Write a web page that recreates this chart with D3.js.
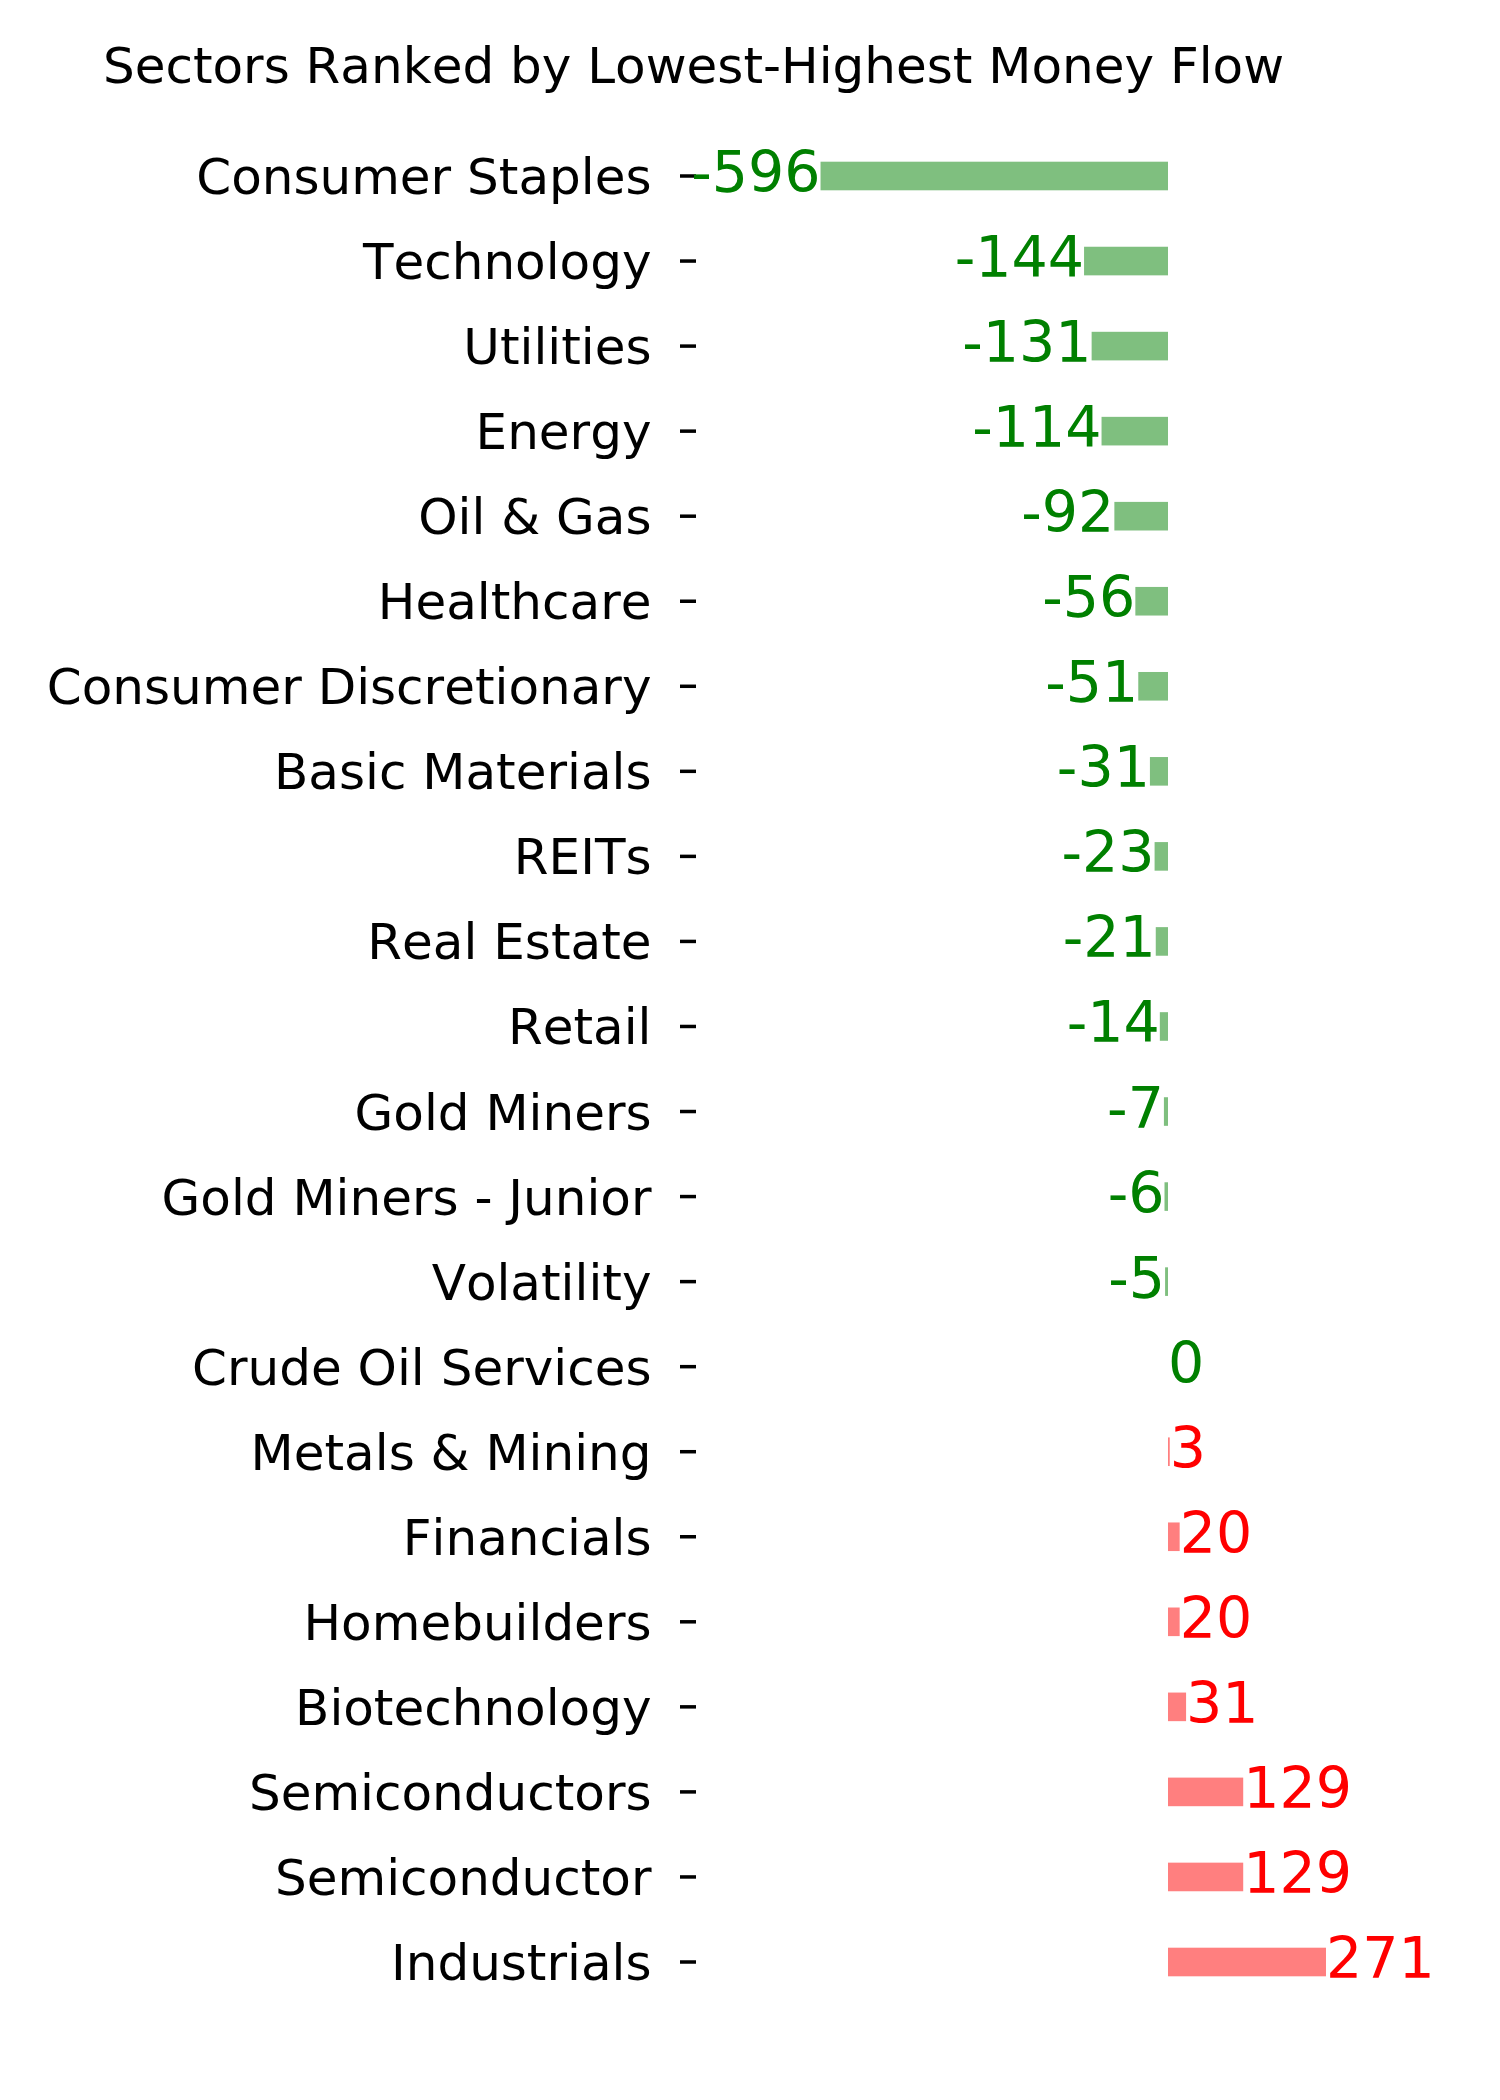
<!DOCTYPE html>
<html>
<head>
<meta charset="utf-8">
<script src="https://cdn.jsdelivr.net/npm/d3@7"></script>
<style>
  html, body { margin: 0; padding: 0; background: #fff; }
  svg { display: block; }
  text { font-family: "DejaVu Sans", sans-serif; font-kerning: none; }
</style>
</head>
<body>
<svg id="chart" width="1500" height="2100"></svg>
<script>
const title = "Sectors Ranked by Lowest-Highest Money Flow";
const categories = [
  "Consumer Staples", "Technology", "Utilities", "Energy", "Oil & Gas",
  "Healthcare", "Consumer Discretionary", "Basic Materials", "REITs",
  "Real Estate", "Retail", "Gold Miners", "Gold Miners - Junior",
  "Volatility", "Crude Oil Services", "Metals & Mining", "Financials",
  "Homebuilders", "Biotechnology", "Semiconductors", "Semiconductor",
  "Industrials"
];
const values = [-596, -144, -131, -114, -92, -56, -51, -31, -23, -21, -14,
  -7, -6, -5, 0, 3, 20, 20, 31, 129, 129, 271];

const data = categories.map((c, i) => ({ cat: c, val: values[i] }));

const svg = d3.select("#chart");

const zeroX = 1168, pxPerUnit = 0.583;
const x = d3.scaleLinear()
  .domain([-650, 300])
  .range([zeroX - 650 * pxPerUnit, zeroX + 300 * pxPerUnit]);

const y = d3.scalePoint()
  .domain(categories)
  .range([176, 1962])
  .padding(0);

const barH = 28.6;

// Title
svg.append("text")
  .attr("x", 693.5)
  .attr("y", 83)
  .attr("text-anchor", "middle")
  .attr("font-size", 50)
  .attr("fill", "#000")
  .text(title);

// Bars
svg.append("g").selectAll("rect")
  .data(data)
  .join("rect")
  .attr("x", d => Math.min(x(0), x(d.val)))
  .attr("width", d => Math.abs(x(d.val) - x(0)))
  .attr("y", d => y(d.cat) - barH / 2)
  .attr("height", barH)
  .attr("fill", d => d.val < 0 ? "#008000" : "#ff0000")
  .attr("fill-opacity", 0.5);

// Y tick labels
svg.append("g").selectAll("text")
  .data(data)
  .join("text")
  .attr("x", 651.5)
  .attr("y", d => y(d.cat) + 18)
  .attr("text-anchor", "end")
  .attr("font-size", 50)
  .attr("fill", "#000")
  .text(d => d.cat);

// Tick marks
svg.append("g").selectAll("line")
  .data(data)
  .join("line")
  .attr("x1", 680)
  .attr("x2", 696)
  .attr("y1", d => y(d.cat))
  .attr("y2", d => y(d.cat))
  .attr("stroke", "#000")
  .attr("stroke-width", 3.5);

// Value labels
svg.append("g").selectAll("text")
  .data(data)
  .join("text")
  .attr("x", d => x(d.val))
  .attr("y", d => y(d.cat) + 16)
  .attr("text-anchor", d => d.val < 0 ? "end" : "start")
  .attr("font-size", 57)
  .attr("fill", d => d.val <= 0 ? "#008000" : "#ff0000")
  .text(d => d.val);
</script>
</body>
</html>
